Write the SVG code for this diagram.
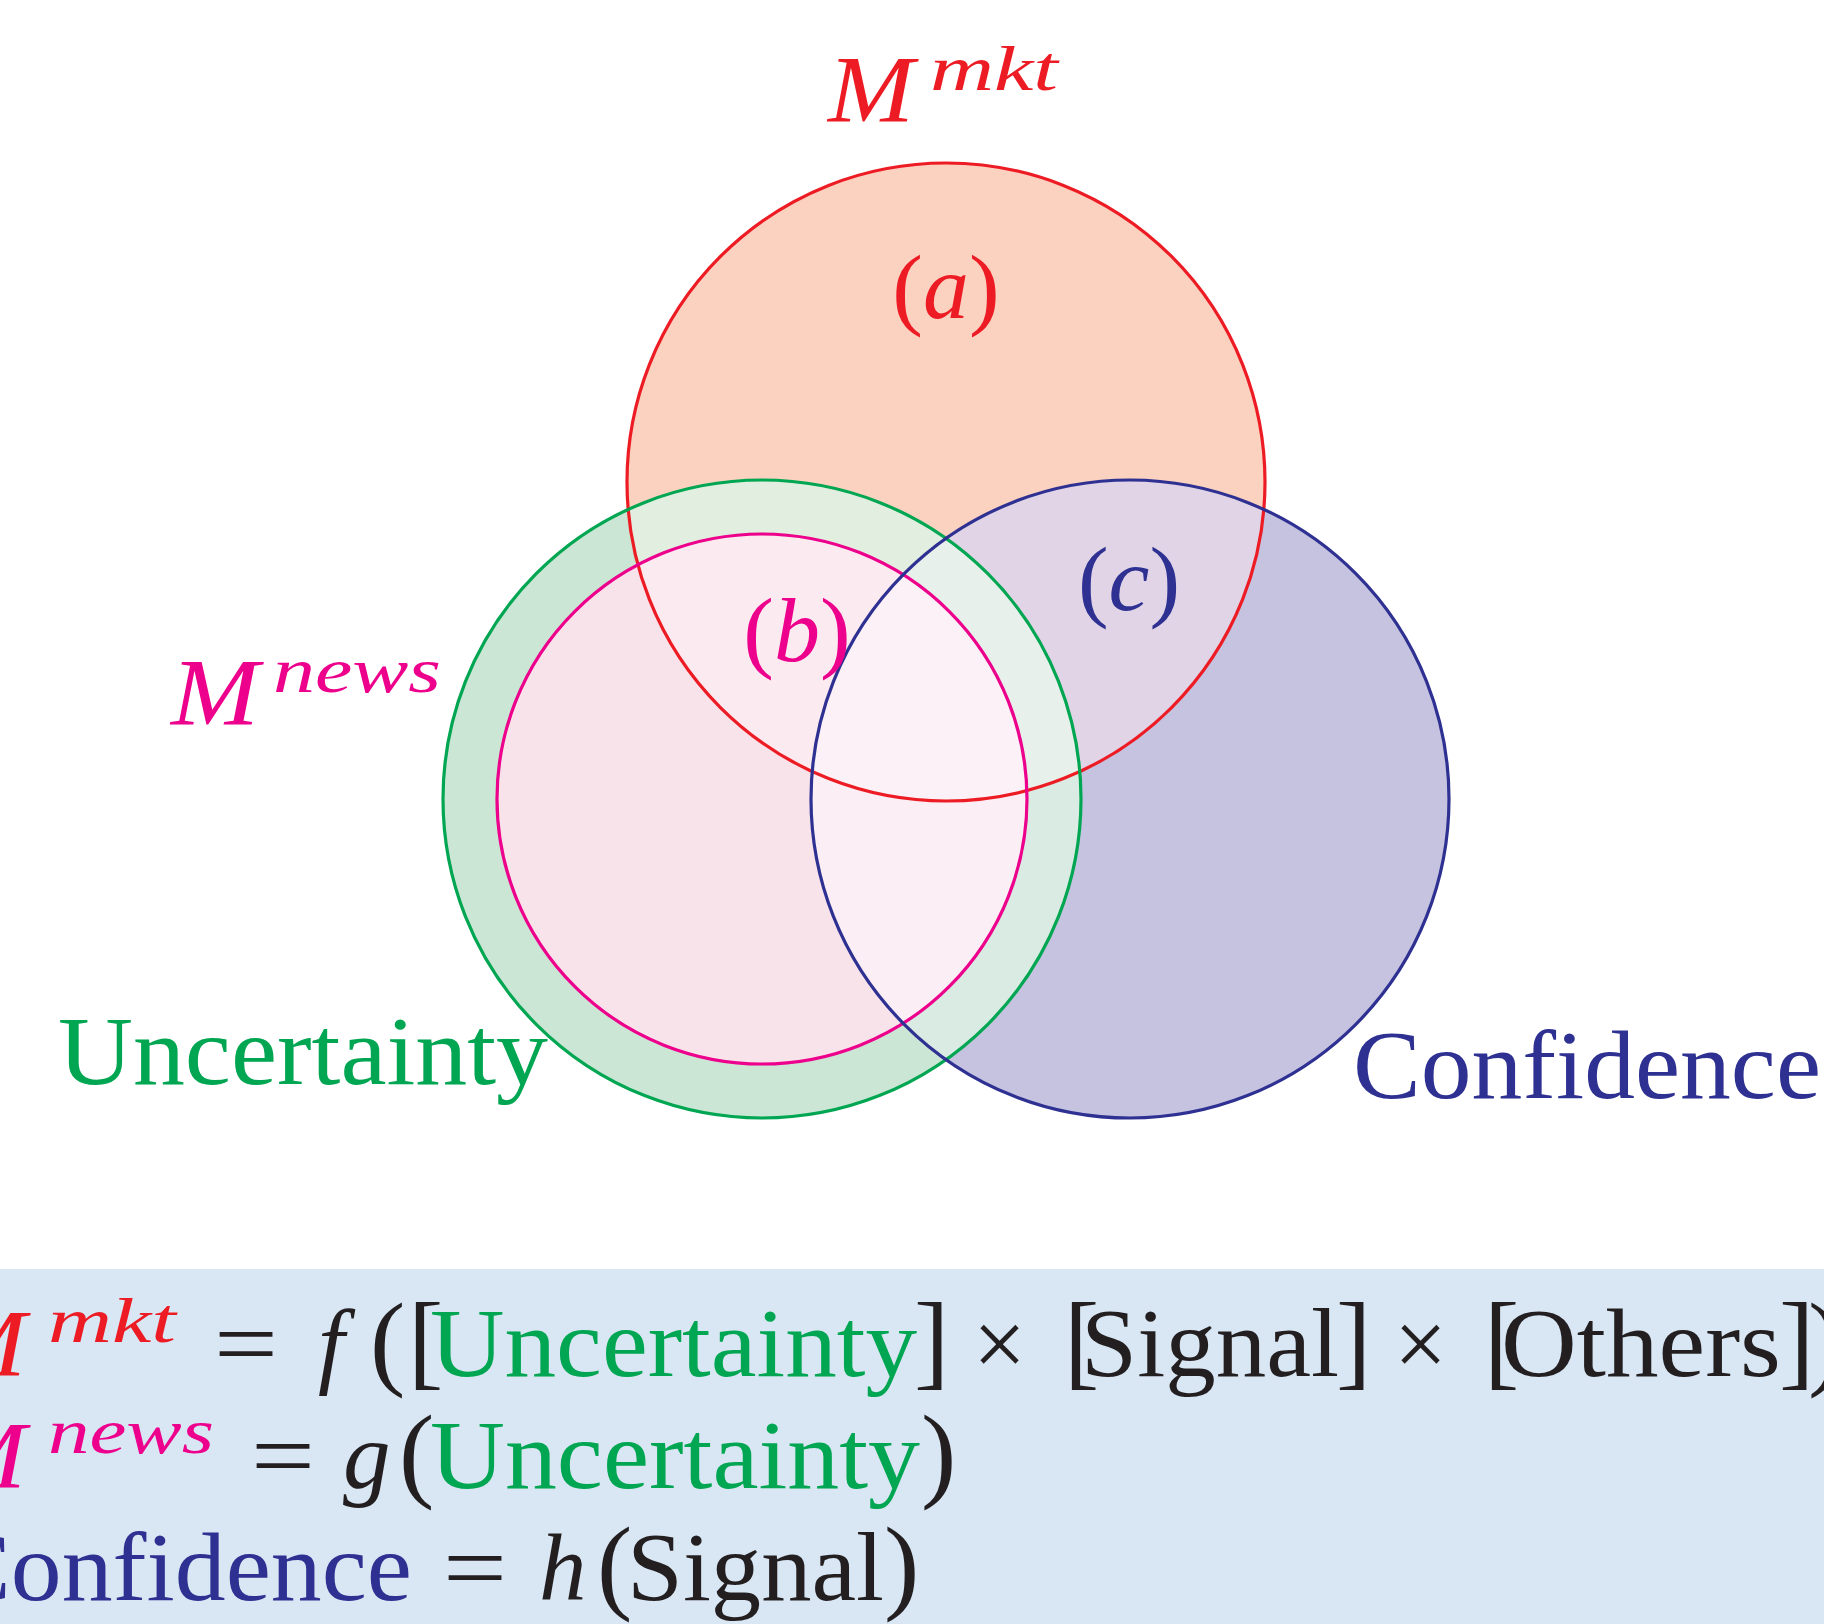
<svg xmlns="http://www.w3.org/2000/svg" width="1824" height="1624" viewBox="0 0 1824 1624">
<style>
.mi{font-family:"Liberation Serif","Times New Roman",serif;font-style:italic}
.rm{font-family:"Liberation Serif","Times New Roman",serif;font-style:normal}
.red{fill:#ed1c24}.grn{fill:#00a651}.pnk{fill:#ec008c}.blu{fill:#2e3192}.blk{fill:#231f20}
.big{font-size:95px}.sup{font-size:64px}.txt{font-size:98px}.par{font-size:106px}.lab{font-size:92px}
.st{fill:none;stroke-width:3.2}
</style>
<defs>
<clipPath id="cR"><circle cx="946" cy="482" r="319"/></clipPath>
<clipPath id="cG"><circle cx="762" cy="799" r="319"/></clipPath>
<clipPath id="cB"><circle cx="1130" cy="799" r="319"/></clipPath>
<clipPath id="cP"><circle cx="762" cy="799" r="265"/></clipPath>
</defs>
<rect width="1824" height="1624" fill="#ffffff"/>
<g id="fills">
<circle cx="946" cy="482" r="319" fill="#fbd2c0"/>
<circle cx="762" cy="799" r="319" fill="#cbe6d4"/>
<circle cx="1130" cy="799" r="319" fill="#c6c3e0"/>
<g clip-path="url(#cG)"><circle cx="1130" cy="799" r="319" fill="#d9ebe2"/></g>
<g clip-path="url(#cR)">
<circle cx="762" cy="799" r="319" fill="#e2eedf"/>
<circle cx="1130" cy="799" r="319" fill="#e0d4e6"/>
<g clip-path="url(#cG)"><circle cx="1130" cy="799" r="319" fill="#e7f0ea"/></g>
</g>
<circle cx="762" cy="799" r="265" fill="#f9e3eb"/>
<g clip-path="url(#cP)">
<circle cx="946" cy="482" r="319" fill="#fbeaf0"/>
<circle cx="1130" cy="799" r="319" fill="#fbeef4"/>
<g clip-path="url(#cR)"><circle cx="1130" cy="799" r="319" fill="#fbf1f6"/></g>
</g>
</g>
<g id="node-mkt"><circle class="st" cx="946" cy="482" r="319" stroke="#ed1c24"/></g>
<g id="node-uncertainty"><circle class="st" cx="762" cy="799" r="319" stroke="#00a651"/></g>
<g id="node-news"><circle class="st" cx="762" cy="799" r="265" stroke="#ec008c"/></g>
<g id="node-confidence"><circle class="st" cx="1130" cy="799" r="319" stroke="#2e3192"/></g>
<g id="connectors"></g>
<g id="labels">
<text class="mi red" y="122"><tspan class="big" x="828" textLength="86" lengthAdjust="spacingAndGlyphs">M</tspan><tspan class="sup" x="930" y="90" textLength="128" lengthAdjust="spacingAndGlyphs">mkt</tspan></text>
<text class="rm lab red" x="946" y="318" text-anchor="middle">(<tspan class="mi">a</tspan>)</text>
<text class="rm lab pnk" x="797" y="661" text-anchor="middle">(<tspan class="mi">b</tspan>)</text>
<text class="rm lab blu" x="1129" y="610" text-anchor="middle">(<tspan class="mi">c</tspan>)</text>
<text class="mi pnk" y="725"><tspan class="big" x="171" textLength="88" lengthAdjust="spacingAndGlyphs">M</tspan><tspan class="sup" x="273" y="692" textLength="168" lengthAdjust="spacingAndGlyphs">news</tspan></text>
<text class="rm txt grn" x="58" y="1084" textLength="490" lengthAdjust="spacingAndGlyphs">Uncertainty</text>
<text class="rm txt blu" x="1353" y="1098" textLength="468" lengthAdjust="spacingAndGlyphs">Confidence</text>
</g>
<g id="equations">
<rect x="0" y="1269" width="1824" height="355" fill="#d9e6f3"/>
<text class="rm blk" y="1376"><tspan class="mi big red" x="-60" textLength="86" lengthAdjust="spacingAndGlyphs">M</tspan><tspan class="mi sup red" x="48" y="1342" textLength="128" lengthAdjust="spacingAndGlyphs">mkt</tspan><tspan class="big" x="214" y="1376" textLength="64" lengthAdjust="spacingAndGlyphs">=</tspan><tspan class="mi big" x="318">f</tspan><tspan class="par" x="370">(</tspan><tspan class="par" x="408">[</tspan><tspan class="txt grn" x="430" textLength="487" lengthAdjust="spacingAndGlyphs">Uncertainty</tspan><tspan class="par" x="914">]</tspan><tspan class="big" x="973" textLength="53" lengthAdjust="spacingAndGlyphs">×</tspan><tspan class="par" x="1064">[</tspan><tspan class="txt" x="1081" textLength="258" lengthAdjust="spacingAndGlyphs">Signal</tspan><tspan class="par" x="1336">]</tspan><tspan class="big" x="1394" textLength="53" lengthAdjust="spacingAndGlyphs">×</tspan><tspan class="par" x="1484">[</tspan><tspan class="txt" x="1501" textLength="280" lengthAdjust="spacingAndGlyphs">Others</tspan><tspan class="par" x="1779">]</tspan><tspan class="par" x="1808">)</tspan></text>
<text class="rm blk" y="1488"><tspan class="mi big pnk" x="-60" textLength="86" lengthAdjust="spacingAndGlyphs">M</tspan><tspan class="mi sup pnk" x="48" y="1453" textLength="166" lengthAdjust="spacingAndGlyphs">news</tspan><tspan class="big" x="251" y="1488" textLength="64" lengthAdjust="spacingAndGlyphs">=</tspan><tspan class="mi big" x="343">g</tspan><tspan class="par" x="399">(</tspan><tspan class="txt grn" x="430" textLength="490" lengthAdjust="spacingAndGlyphs">Uncertainty</tspan><tspan class="par" x="921">)</tspan></text>
<text class="rm blk" y="1600"><tspan class="txt blu" x="-57" textLength="469" lengthAdjust="spacingAndGlyphs">Confidence</tspan><tspan class="big" x="443" textLength="64" lengthAdjust="spacingAndGlyphs">=</tspan><tspan class="mi big" x="539">h</tspan><tspan class="par" x="597">(</tspan><tspan class="txt" x="627" textLength="257" lengthAdjust="spacingAndGlyphs">Signal</tspan><tspan class="par" x="884">)</tspan></text>
</g>
</svg>
